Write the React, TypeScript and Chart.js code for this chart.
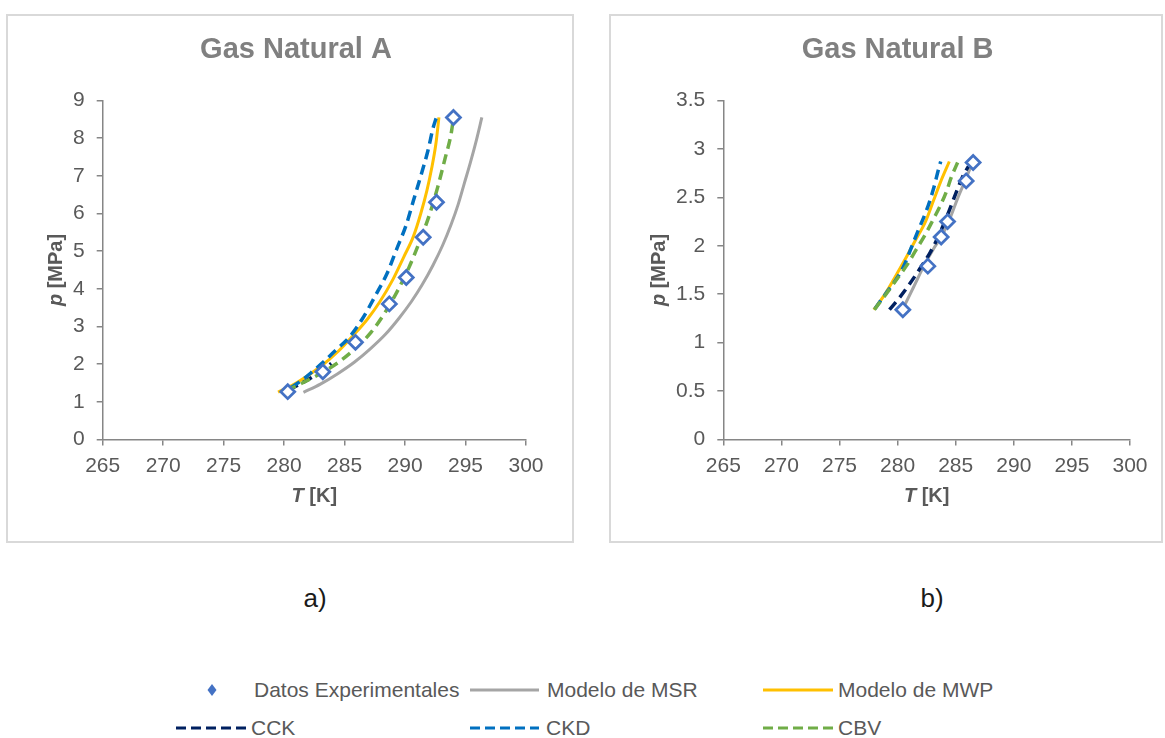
import React, { useEffect, useRef } from 'react';
import { Chart, registerables } from 'chart.js';

Chart.register(...registerables);

const FONT = "Arial, 'Liberation Sans', Helvetica, sans-serif";

// ---- tick labels ----
const xTicks = [265, 270, 275, 280, 285, 290, 295, 300];
const yTicksA = [0, 1, 2, 3, 4, 5, 6, 7, 8, 9];
const yTicksB = [0, 0.5, 1, 1.5, 2, 2.5, 3, 3.5];

// ---- Gas Natural A ----
const expA_T = [280.3, 283.2, 285.9, 288.7, 290.1, 291.5, 292.6, 294.0];
const expA_p = [1.27, 1.8, 2.58, 3.6, 4.3, 5.37, 6.3, 8.55];

const msrA_T = [281.6, 283.0, 284.4, 285.8, 287.1, 288.4, 289.5, 290.5, 291.4, 292.3, 293.1, 293.8, 294.4, 294.9, 295.4, 295.9, 296.35];
const msrA_p = [1.25, 1.47, 1.74, 2.05, 2.4, 2.8, 3.22, 3.65, 4.1, 4.62, 5.15, 5.7, 6.25, 6.8, 7.35, 7.95, 8.55];

const mwpA_T = [279.5, 281.0, 283.0, 284.5, 285.7, 286.9, 287.9, 289.0, 289.9, 290.7, 291.3, 291.8, 292.2, 292.55, 292.8];
const mwpA_p = [1.26, 1.5, 1.93, 2.35, 2.76, 3.2, 3.65, 4.25, 4.85, 5.4, 6.0, 6.6, 7.2, 7.85, 8.55];

const cckA_T = [280.4, 281.3, 282.2, 283.1, 283.9];
const cckA_p = [1.32, 1.47, 1.63, 1.82, 2.02];

const ckdA_T = [280.6, 281.5, 282.4, 283.4, 284.3, 285.4, 286.5, 287.6, 288.5, 289.3, 290.1, 290.7, 291.35, 291.9, 292.3, 292.6];
const ckdA_p = [1.38, 1.58, 1.82, 2.1, 2.38, 2.72, 3.22, 3.85, 4.4, 5.05, 5.7, 6.35, 7.05, 7.68, 8.25, 8.56];

const cbvA_T = [280.2, 281.5, 283.0, 284.5, 286.0, 287.2, 288.3, 289.3, 290.3, 291.2, 292.0, 292.7, 293.3, 293.8, 294.0];
const cbvA_p = [1.3, 1.5, 1.75, 2.05, 2.45, 2.85, 3.35, 3.9, 4.55, 5.25, 5.95, 6.7, 7.45, 8.1, 8.52];

// ---- Gas Natural B ----
const expB_T = [280.45, 282.6, 283.75, 284.3, 285.9, 286.5];
const expB_p = [1.34, 1.79, 2.09, 2.25, 2.67, 2.86];

const msrB_T = [280.5, 281.4, 282.3, 283.1, 283.8, 284.5, 285.2, 285.8, 286.45];
const msrB_p = [1.36, 1.58, 1.8, 1.97, 2.1, 2.28, 2.5, 2.67, 2.86];

const mwpB_T = [277.95, 278.8, 279.7, 280.6, 281.5, 282.4, 283.1, 283.7, 284.45];
const mwpB_p = [1.34, 1.48, 1.66, 1.85, 2.05, 2.25, 2.47, 2.66, 2.87];

const cckB_T = [279.3, 280.2, 281.0, 281.9, 282.8, 283.6, 284.4, 285.2, 285.7, 286.1];
const cckB_p = [1.34, 1.47, 1.6, 1.76, 1.93, 2.12, 2.35, 2.6, 2.74, 2.82];

const ckdB_T = [278.05, 279.0, 279.63, 280.49, 281.21, 281.78, 282.5, 283.07, 283.5, 283.71];
const ckdB_p = [1.35, 1.51, 1.61, 1.78, 1.99, 2.16, 2.37, 2.58, 2.78, 2.87];

const cbvB_T = [278.0, 279.0, 279.9, 280.8, 281.6, 282.4, 283.1, 283.7, 284.2, 284.6, 285.2];
const cbvB_p = [1.34, 1.5, 1.65, 1.8, 1.96, 2.12, 2.28, 2.42, 2.56, 2.7, 2.87];

// ---- texts ----
const seriesNames = ['Datos Experimentales', 'Modelo de MSR', 'Modelo de MWP', 'CCK', 'CKD', 'CBV'];
const titleA = 'Gas Natural A';
const titleB = 'Gas Natural B';
const xTitleParts = [{ text: 'T', italic: true }, { text: ' [K]', italic: false }];
const yTitleParts = [{ text: 'p', italic: true }, { text: ' [MPa]', italic: false }];

const COLORS = {
  exp: '#4472c4',
  msr: '#a5a5a5',
  mwp: '#ffc000',
  cck: '#002060',
  ckd: '#0070c0',
  cbv: '#70ad47',
};

const zip = (xs: number[], ys: number[]) => xs.map((x, i) => ({ x, y: ys[i] }));

const axisTitlePlugin = {
  id: 'mixedAxisTitles',
  afterDraw(chart: any, _args: any, opts: any) {
    const { ctx, chartArea } = chart;
    const drawParts = (parts: any[], cx: number, cy: number, rot: number) => {
      ctx.save();
      ctx.translate(cx, cy);
      ctx.rotate(rot);
      ctx.fillStyle = opts.color;
      ctx.textBaseline = 'middle';
      ctx.textAlign = 'left';
      const fonts = parts.map((p) => `${p.italic ? 'italic ' : ''}bold ${opts.size}px ${FONT}`);
      let total = 0;
      const widths = parts.map((p, i) => {
        ctx.font = fonts[i];
        const w = ctx.measureText(p.text).width;
        total += w;
        return w;
      });
      let x = -total / 2;
      parts.forEach((p, i) => {
        ctx.font = fonts[i];
        ctx.fillText(p.text, x, 0);
        x += widths[i];
      });
      ctx.restore();
    };
    drawParts(opts.xParts, (chartArea.left + chartArea.right) / 2, chartArea.bottom + opts.xGap, 0);
    drawParts(opts.yParts, opts.yX, (chartArea.top + chartArea.bottom) / 2, -Math.PI / 2);
  },
};

type PanelCfg = {
  left: number;
  top: number;
  w: number;
  h: number;
  padL: number;
  padR: number;
  yWidth: number;
  title: string;
  yTicks: number[];
  yMax: number;
  series: { exp: any[]; msr: any[]; mwp: any[]; cck: any[]; ckd: any[]; cbv: any[] };
};

function lineDs(label: string, data: any[], color: string, dashed: boolean, order: number) {
  return {
    label,
    data,
    showLine: true,
    borderColor: color,
    backgroundColor: color,
    borderWidth: dashed ? 3.5 : 3,
    borderDash: dashed ? [10, 6] : [],
    pointRadius: 0,
    pointHoverRadius: 0,
    cubicInterpolationMode: 'monotone',
    order,
  };
}

function Panel({ cfg }: { cfg: PanelCfg }) {
  const ref = useRef<HTMLCanvasElement>(null);
  useEffect(() => {
    const s = cfg.series;
    const chart = new Chart(ref.current as HTMLCanvasElement, {
      type: 'scatter',
      data: {
        datasets: [
          {
            label: seriesNames[0],
            data: s.exp,
            showLine: false,
            pointStyle: 'rectRot',
            pointRadius: 7,
            pointBorderWidth: 2.75,
            pointBorderColor: COLORS.exp,
            pointBackgroundColor: '#ffffff',
            borderColor: COLORS.exp,
            backgroundColor: '#ffffff',
            order: 0,
          } as any,
          lineDs(seriesNames[1], s.msr, COLORS.msr, false, 6) as any,
          lineDs(seriesNames[2], s.mwp, COLORS.mwp, false, 5) as any,
          lineDs(seriesNames[3], s.cck, COLORS.cck, true, 4) as any,
          lineDs(seriesNames[4], s.ckd, COLORS.ckd, true, 2) as any,
          lineDs(seriesNames[5], s.cbv, COLORS.cbv, true, 1) as any,
        ],
      },
      options: {
        animation: false,
        responsive: false,
        maintainAspectRatio: false,
        devicePixelRatio: 1,
        layout: { padding: { left: cfg.padL, right: cfg.padR, top: 0, bottom: 0 } },
        plugins: {
          legend: { display: false },
          tooltip: { enabled: false },
          title: {
            display: true,
            text: cfg.title,
            color: '#808080',
            font: { family: FONT, size: 29, weight: 'bold' },
            padding: { top: 18.6, bottom: 33.1 },
          },
          mixedAxisTitles: {
            xParts: xTitleParts,
            yParts: yTitleParts,
            size: 20,
            color: '#595959',
            xGap: 57,
            yX: 50,
          },
        } as any,
        scales: {
          x: {
            type: 'linear',
            min: xTicks[0],
            max: xTicks[xTicks.length - 1],
            afterBuildTicks: (sc: any) => {
              sc.ticks = xTicks.map((v) => ({ value: v }));
            },
            afterFit: (sc: any) => {
              sc.height = 103.5;
            },
            ticks: {
              color: '#595959',
              font: { family: FONT, size: 21 },
              padding: 8,
              maxRotation: 0,
              autoSkip: false,
              callback: (v: any) => String(v),
            },
            grid: { display: true, drawOnChartArea: false, drawTicks: true, tickLength: 6, color: '#868686', lineWidth: 1.5 },
            border: { display: true, color: '#868686', width: 1.5 },
          },
          y: {
            type: 'linear',
            min: 0,
            max: cfg.yMax,
            afterBuildTicks: (sc: any) => {
              sc.ticks = cfg.yTicks.map((v) => ({ value: v }));
            },
            afterFit: (sc: any) => {
              sc.width = cfg.yWidth;
            },
            ticks: {
              color: '#595959',
              font: { family: FONT, size: 21 },
              padding: 12,
              autoSkip: false,
              callback: (v: any) => String(v),
            },
            grid: { display: true, drawOnChartArea: false, drawTicks: true, tickLength: 6, color: '#868686', lineWidth: 1.5 },
            border: { display: true, color: '#868686', width: 1.5 },
          },
        },
      } as any,
      plugins: [axisTitlePlugin as any],
    });
    return () => chart.destroy();
  }, []);
  return (
    <>
      <canvas
        ref={ref}
        width={cfg.w}
        height={cfg.h}
        style={{ position: 'absolute', left: cfg.left, top: cfg.top, width: cfg.w, height: cfg.h }}
      />
      <div
        style={{
          position: 'absolute',
          left: cfg.left,
          top: cfg.top,
          width: cfg.w,
          height: cfg.h,
          border: '2px solid #d9d9d9',
          boxSizing: 'border-box',
          pointerEvents: 'none',
        }}
      />
    </>
  );
}

function LegendLine({ x1, x2, y, color, dashed }: { x1: number; x2: number; y: number; color: string; dashed: boolean }) {
  return (
    <svg style={{ position: 'absolute', left: x1, top: y - 3, width: x2 - x1, height: 6, overflow: 'visible' }}>
      <line x1={0} y1={3} x2={x2 - x1} y2={3} stroke={color} strokeWidth={3} strokeDasharray={dashed ? '10 5' : undefined} />
    </svg>
  );
}

function LegendText({ x, y, text }: { x: number; y: number; text: string }) {
  return (
    <div
      style={{
        position: 'absolute',
        left: x,
        top: y,
        transform: 'translateY(-50%)',
        fontFamily: FONT,
        fontSize: 21,
        color: '#595959',
        whiteSpace: 'nowrap',
        lineHeight: '24px',
      }}
    >
      {text}
    </div>
  );
}

export default function App() {
  const cfgA: PanelCfg = {
    left: 6,
    top: 14,
    w: 568,
    h: 529,
    padL: 60,
    padR: 48,
    yWidth: 36.7,
    title: titleA,
    yTicks: yTicksA,
    yMax: yTicksA[yTicksA.length - 1],
    series: {
      exp: zip(expA_T, expA_p),
      msr: zip(msrA_T, msrA_p),
      mwp: zip(mwpA_T, mwpA_p),
      cck: zip(cckA_T, cckA_p),
      ckd: zip(ckdA_T, ckdA_p),
      cbv: zip(cbvA_T, cbvA_p),
    },
  };
  const cfgB: PanelCfg = {
    left: 609,
    top: 14,
    w: 554,
    h: 529,
    padL: 56.2,
    padR: 33,
    yWidth: 58.1,
    title: titleB,
    yTicks: yTicksB,
    yMax: yTicksB[yTicksB.length - 1],
    series: {
      exp: zip(expB_T, expB_p),
      msr: zip(msrB_T, msrB_p),
      mwp: zip(mwpB_T, mwpB_p),
      cck: zip(cckB_T, cckB_p),
      ckd: zip(ckdB_T, ckdB_p),
      cbv: zip(cbvB_T, cbvB_p),
    },
  };
  const r1 = 690;
  const r2 = 728;
  return (
    <div style={{ position: 'absolute', left: 0, top: 0, width: 1165, height: 738, background: '#ffffff', overflow: 'hidden' }}>
      <Panel cfg={cfgA} />
      <Panel cfg={cfgB} />
      <div style={{ position: 'absolute', left: 315, top: 598, transform: 'translate(-50%, -50%)', fontFamily: FONT, fontSize: 26, color: '#1a1a1a' }}>a)</div>
      <div style={{ position: 'absolute', left: 932, top: 598, transform: 'translate(-50%, -50%)', fontFamily: FONT, fontSize: 26, color: '#1a1a1a' }}>b)</div>

      <svg style={{ position: 'absolute', left: 207, top: r1 - 6, width: 10, height: 12 }}>
        <polygon points="5,0 9.5,6 5,12 0.5,6" fill={COLORS.exp} />
      </svg>
      <LegendText x={254} y={r1} text={seriesNames[0]} />
      <LegendLine x1={470} x2={539} y={r1} color={COLORS.msr} dashed={false} />
      <LegendText x={547} y={r1} text={seriesNames[1]} />
      <LegendLine x1={763} x2={833} y={r1} color={COLORS.mwp} dashed={false} />
      <LegendText x={838} y={r1} text={seriesNames[2]} />

      <LegendLine x1={176} x2={246} y={r2} color={COLORS.cck} dashed={true} />
      <LegendText x={251} y={r2} text={seriesNames[3]} />
      <LegendLine x1={470} x2={539} y={r2} color={COLORS.ckd} dashed={true} />
      <LegendText x={546} y={r2} text={seriesNames[4]} />
      <LegendLine x1={763} x2={833} y={r2} color={COLORS.cbv} dashed={true} />
      <LegendText x={838} y={r2} text={seriesNames[5]} />
    </div>
  );
}
